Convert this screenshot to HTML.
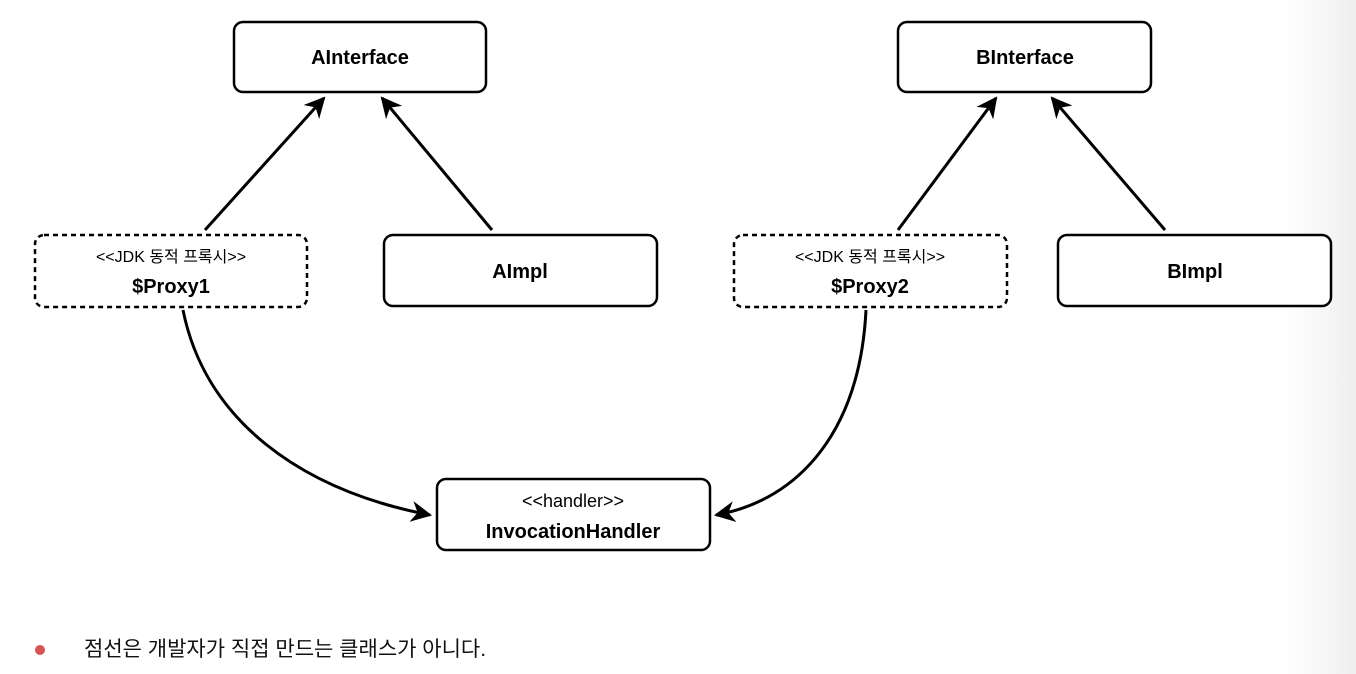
<!DOCTYPE html>
<html><head><meta charset="utf-8"><style>
html,body{margin:0;padding:0}
body{width:1356px;height:674px;overflow:hidden;background:linear-gradient(to right,#fff 0,#fff 1285px,#efefef 1356px);font-family:"Liberation Sans","Noto Sans CJK KR",sans-serif}
svg{position:absolute;left:0;top:0}
</style></head><body>
<svg width="1356" height="674" viewBox="0 0 1356 674" font-family="Liberation Sans, Noto Sans CJK KR, sans-serif">
<defs>
<marker id="a" viewBox="0 0 10 10" refX="9" refY="5" markerWidth="7" markerHeight="7" orient="auto-start-reverse" markerUnits="strokeWidth">
<path d="M0,0 L10,5 L0,10 L3,5 z" fill="#000"/></marker>
</defs>
<g fill="#fff" stroke="#000" stroke-width="2.5">
<rect x="234" y="22" width="252" height="70" rx="9"/>
<rect x="898" y="22" width="253" height="70" rx="9"/>
<rect x="384" y="235" width="273" height="71" rx="9"/>
<rect x="1058" y="235" width="273" height="71" rx="9"/>
<rect x="437" y="479" width="273" height="71" rx="9"/>
<rect x="35" y="235" width="272" height="72" rx="9" stroke-dasharray="5,4"/>
<rect x="734" y="235" width="273" height="72" rx="9" stroke-dasharray="5,4"/>
</g>
<g stroke="#000" stroke-width="3" fill="none">
<line x1="205" y1="230" x2="324" y2="98" marker-end="url(#a)"/>
<line x1="492" y1="230" x2="382" y2="98" marker-end="url(#a)"/>
<line x1="898" y1="230" x2="996" y2="98" marker-end="url(#a)"/>
<line x1="1165" y1="230" x2="1052" y2="98" marker-end="url(#a)"/>
<path d="M183,310 C205,420 300,490 430,515" marker-end="url(#a)"/>
<path d="M866,310 C860,430 800,500 716,515" marker-end="url(#a)"/>
</g>
<g text-anchor="middle" fill="#000" font-weight="bold" font-size="20">
<text x="360" y="64">AInterface</text>
<text x="1025" y="64">BInterface</text>
<text x="520" y="278">AImpl</text>
<text x="1195" y="278">BImpl</text>
<text x="171" y="293">$Proxy1</text>
<text x="870" y="293">$Proxy2</text>
<text x="573" y="538">InvocationHandler</text>
</g>
<g text-anchor="middle" fill="#000" font-size="16">
<text x="171" y="262">&lt;&lt;JDK 동적 프록시&gt;&gt;</text>
<text x="870" y="262">&lt;&lt;JDK 동적 프록시&gt;&gt;</text>
<text x="573" y="507" font-size="18">&lt;&lt;handler&gt;&gt;</text>
</g>
<circle cx="40" cy="650" r="5" fill="#d9534f"/>
<text x="84" y="656" font-size="21" fill="#111">점선은 개발자가 직접 만드는 클래스가 아니다.</text>
</svg>
</body></html>
